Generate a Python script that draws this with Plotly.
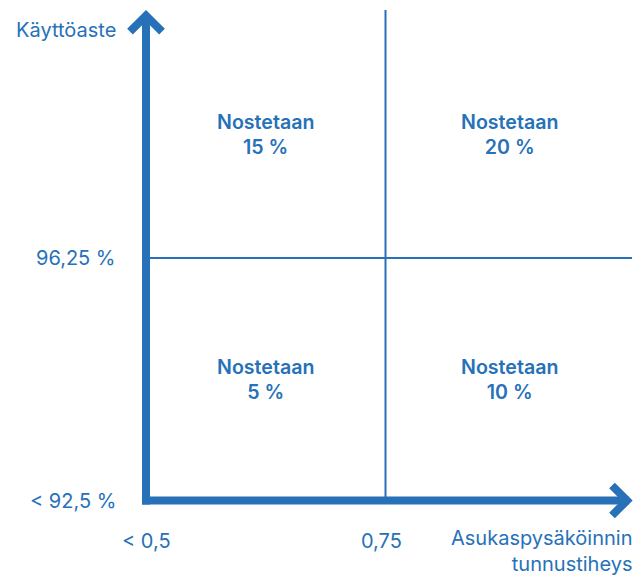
import plotly.graph_objects as go

# ---- data ----
x_ticks = [0.5, 0.75]
x_tick_labels = ["< 0,5", "0,75"]
y_ticks = [92.5, 96.25]
y_tick_labels = ["< 92,5 %", "96,25 %"]
x_title = "Asukaspysäköinnin<br>tunnustiheys"
y_title = "Käyttöaste"
quad_label = "Nostetaan"
# raise percentages by quadrant: (x-bin, y-bin) -> value
quad_values = {(0, 1): 15, (1, 1): 20, (0, 0): 5, (1, 0): 10}

# ---- style ----
W, H = 634, 575
BLUE = "#2671B8"
FONT = "Inter, 'Noto Sans', sans-serif"
FS = 20

X_MIN, X_SPLIT = x_ticks
Y_MIN, Y_SPLIT = y_ticks

# pixel scale: x_min at px 146, x_split at px 385.5 ; y_min at px 500.5, y_split at px 258
sx = (X_SPLIT - X_MIN) / (385.5 - 146)
sy = (Y_SPLIT - Y_MIN) / (500.5 - 258)
XR = [X_MIN - 146 * sx, X_MIN + (W - 146) * sx]
YR = [Y_MIN - (H - 500.5) * sy, Y_MIN + 500.5 * sy]


def px_x(p):
    return XR[0] + p * sx


def px_y(p):
    return YR[1] - p * sy


X_END = px_x(633)   # arrow tip
Y_END = px_y(10)

fig = go.Figure()


def seg(xs, ys, w):
    fig.add_trace(go.Scatter(x=xs, y=ys, mode="lines",
                             line=dict(color=BLUE, width=w),
                             hoverinfo="skip", showlegend=False))


# dividers
seg([X_SPLIT, X_SPLIT], [Y_MIN, Y_END], 2)
seg([X_MIN, px_x(632)], [Y_SPLIT, Y_SPLIT], 2)

# main axes
vx = px_x(627)           # x-arrow vertex
vy = px_y(15.7)          # y-arrow vertex
seg([X_MIN - 4 * sx, vx + 2 * sx], [Y_MIN, Y_MIN], 8)
seg([X_MIN, X_MIN], [Y_MIN - 4 * sy, vy - 2 * sy], 8)
# chevrons
seg([vx - 15 * sx, vx, vx - 15 * sx], [Y_MIN + 15 * sy, Y_MIN, Y_MIN - 15 * sy], 8)
seg([X_MIN - 16 * sx, X_MIN, X_MIN + 16 * sx], [vy - 16 * sy, vy, vy - 16 * sy], 8)

ann = []
tfont = dict(family=FONT, size=FS, color=BLUE)
for v, t in zip(y_ticks, y_tick_labels):
    ann.append(dict(x=X_MIN, y=v, text=t, xanchor="right", yanchor="middle",
                    xshift=-28, showarrow=False, font=tfont))
for v, t in zip(x_ticks, x_tick_labels):
    ann.append(dict(x=v, y=Y_MIN, text=t, xanchor="center", yanchor="middle",
                    yshift=-40, xshift=(-4 if v == X_SPLIT else 0),
                    showarrow=False, font=tfont))
ann.append(dict(x=X_MIN, y=Y_END, text=y_title, xanchor="right", yanchor="middle",
                xshift=-28, yshift=-20, showarrow=False, font=tfont))
ann.append(dict(x=X_END, y=Y_MIN, text=x_title, xanchor="right", yanchor="middle",
                align="right", yshift=-50, xshift=1, showarrow=False, font=tfont))

xc = [(X_MIN + X_SPLIT) / 2, (X_SPLIT + X_END) / 2]
yc = [(Y_MIN + Y_SPLIT) / 2, (Y_SPLIT + Y_END) / 2]
for (i, j), val in quad_values.items():
    ann.append(dict(x=xc[i], y=yc[j], text=f"{quad_label}<br>{val} %",
                    xanchor="center", yanchor="middle", align="center",
                    showarrow=False,
                    font=dict(family=FONT, size=19.6, color=BLUE, weight=600)))

fig.update_layout(
    width=W, height=H, margin=dict(l=0, r=0, t=0, b=0),
    paper_bgcolor="white", plot_bgcolor="white",
    xaxis=dict(range=XR, visible=False, fixedrange=True),
    yaxis=dict(range=YR, visible=False, fixedrange=True),
    annotations=ann,
)

fig.write_html("out.html", config={"displayModeBar": False},
               post_script="document.body.style.margin='0';"
                           "document.body.style.overflow='hidden';")
